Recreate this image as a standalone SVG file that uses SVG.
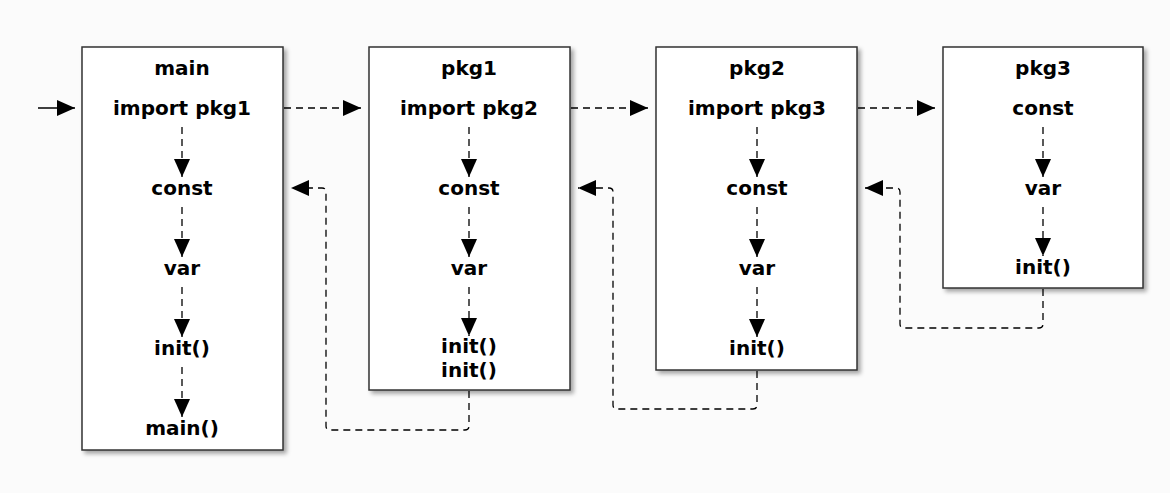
<svg xmlns="http://www.w3.org/2000/svg" width="1170" height="493" viewBox="0 0 1170 493">
<defs>
<filter id="sh" x="-10%" y="-10%" width="130%" height="130%">
<feDropShadow dx="3" dy="3" stdDeviation="2" flood-color="#000" flood-opacity="0.35"/>
</filter>
<marker id="ah" markerUnits="userSpaceOnUse" markerWidth="20" markerHeight="18" refX="18" refY="8" orient="auto">
<path d="M0,0 L18,8 L0,16 z" fill="#000"/>
</marker>
<style>
.box{fill:#fff;stroke:#333;stroke-width:1.5;filter:url(#sh)}
.t{font-family:"DejaVu Sans",Verdana,sans-serif;font-weight:bold;font-size:20px;fill:#000;text-anchor:middle}
.d{fill:none;stroke:#000;stroke-width:1.3;stroke-dasharray:7,5}
.s{fill:none;stroke:#000;stroke-width:1.5}
</style>
</defs>
<rect width="1170" height="493" fill="#fbfbfb"/>

<g id="main">
<rect class="box" x="82" y="47" width="201" height="403"/>
<text class="t" x="182" y="75">main</text>
<text class="t" x="182" y="115">import pkg1</text>
<text class="t" x="182" y="195">const</text>
<text class="t" x="182" y="275">var</text>
<text class="t" x="182" y="355">init()</text>
<text class="t" x="182" y="435">main()</text>
</g>

<g id="pkg1">
<rect class="box" x="369" y="47" width="201" height="343"/>
<text class="t" x="469" y="75">pkg1</text>
<text class="t" x="469" y="115">import pkg2</text>
<text class="t" x="469" y="195">const</text>
<text class="t" x="469" y="275">var</text>
<text class="t" x="469" y="353">init()</text>
<text class="t" x="469" y="377">init()</text>
</g>

<g id="pkg2">
<rect class="box" x="656" y="47" width="201" height="323"/>
<text class="t" x="757" y="75">pkg2</text>
<text class="t" x="757" y="115">import pkg3</text>
<text class="t" x="757" y="195">const</text>
<text class="t" x="757" y="275">var</text>
<text class="t" x="757" y="355">init()</text>
</g>

<g id="pkg3">
<rect class="box" x="943" y="47" width="200" height="241"/>
<text class="t" x="1043" y="75">pkg3</text>
<text class="t" x="1043" y="115">const</text>
<text class="t" x="1043" y="195">var</text>
<text class="t" x="1043" y="274">init()</text>
</g>

<g id="connectors">
<line class="s" x1="38" y1="108" x2="75" y2="108" marker-end="url(#ah)"/>
<line class="d" x1="182" y1="127" x2="182" y2="177" marker-end="url(#ah)"/>
<line class="d" x1="182" y1="207" x2="182" y2="257" marker-end="url(#ah)"/>
<line class="d" x1="182" y1="287" x2="182" y2="337" marker-end="url(#ah)"/>
<line class="d" x1="182" y1="367" x2="182" y2="417" marker-end="url(#ah)"/>

<line class="d" x1="469" y1="127" x2="469" y2="177" marker-end="url(#ah)"/>
<line class="d" x1="469" y1="207" x2="469" y2="257" marker-end="url(#ah)"/>
<line class="d" x1="469" y1="287" x2="469" y2="336" marker-end="url(#ah)"/>

<line class="d" x1="757" y1="127" x2="757" y2="177" marker-end="url(#ah)"/>
<line class="d" x1="757" y1="207" x2="757" y2="257" marker-end="url(#ah)"/>
<line class="d" x1="757" y1="287" x2="757" y2="337" marker-end="url(#ah)"/>

<line class="d" x1="1043" y1="127" x2="1043" y2="177" marker-end="url(#ah)"/>
<line class="d" x1="1043" y1="207" x2="1043" y2="256" marker-end="url(#ah)"/>

<line class="d" x1="284" y1="108" x2="361" y2="108" marker-end="url(#ah)"/>
<line class="d" x1="571" y1="108" x2="648" y2="108" marker-end="url(#ah)"/>
<line class="d" x1="858" y1="108" x2="935" y2="108" marker-end="url(#ah)"/>

<path class="d" d="M469,391 V426 Q469,430 465,430 H330 Q326,430 326,426 V192 Q326,188 322,188 H291" marker-end="url(#ah)"/>
<path class="d" d="M757,371 V405 Q757,409 753,409 H617 Q613,409 613,405 V192 Q613,188 609,188 H578" marker-end="url(#ah)"/>
<path class="d" d="M1043,289 V324 Q1043,328 1039,328 H904 Q900,328 900,324 V192 Q900,188 896,188 H865" marker-end="url(#ah)"/>
</g>
</svg>
